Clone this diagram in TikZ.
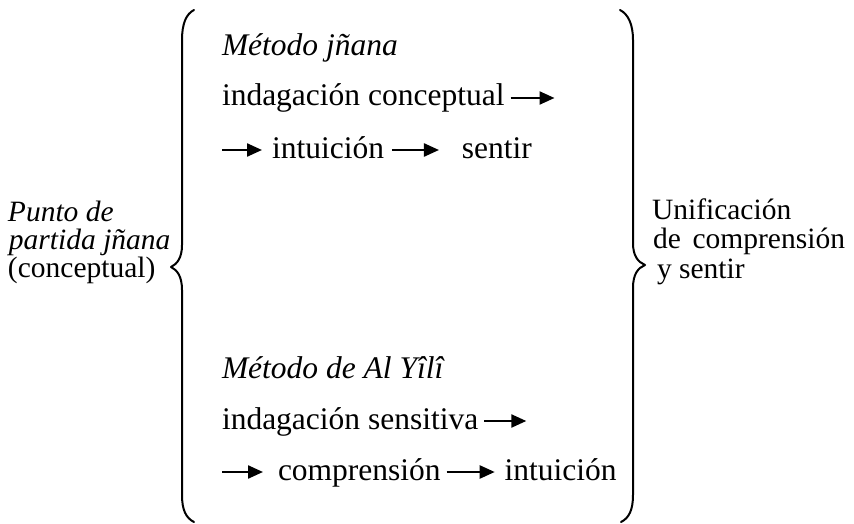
\documentclass[tikz,border=0pt]{standalone}
\usepackage{fontspec}
\setmainfont{Liberation Serif}
\usetikzlibrary{arrows.meta,positioning}
\begin{document}
\begin{tikzpicture}[x=1pt,y=-1pt,
  txt/.style={inner sep=0pt, outer sep=0pt, text height=16pt, text depth=0pt, anchor=west, font=\fontsize{31.5}{38}\selectfont},
  ittxt/.style={txt, font=\fontsize{31.5}{38}\selectfont\itshape},
  sidetxt/.style={inner sep=0pt, outer sep=0pt, text height=13pt, text depth=0pt, anchor=west, font=\fontsize{29.5}{34}\selectfont},
  sideit/.style={sidetxt, font=\fontsize{29.5}{34}\selectfont\itshape},
  arr/.style={line width=2.3pt, -{Triangle[length=15pt,width=13pt]}},
  bracepath/.style={line width=2pt, line cap=round, line join=round}]
\useasboundingbox (0,0) rectangle (854,524);

% braces
\draw[bracepath] (194,10) .. controls (186,14) and (182,24) .. (182,40) -- (182,245)
  .. controls (182,258) and (177,264) .. (171,267)
  .. controls (177,270) and (182,276) .. (182,290) -- (182,495)
  .. controls (182,510) and (186,518) .. (194,522);
\draw[bracepath] (620,10) .. controls (628,14) and (633,24) .. (633,40) -- (633,243)
  .. controls (633,256) and (638,262) .. (645,265)
  .. controls (638,268) and (633,274) .. (633,288) -- (633,495)
  .. controls (633,510) and (629,518) .. (621,522);

% left
\node[sideit] (p1) at (8,215) {Punto de};
\node[sideit] (p2) at (9,243) {partida jñana};
\node[sidetxt] (p3) at (8,271) {(conceptual)};

% right
\node[sidetxt] (u1) at (652,213) {Unificación};
\node[sidetxt] (u2) at (653,242) {de\hspace{0.4em}comprensión};
\node[sidetxt] (u3) at (657,272) {y sentir};

% upper method
\node[ittxt] (m1) at (222,48) {Método jñana};
\node[txt] (ic) at (222,98) {indagación conceptual};
\coordinate[right=50pt of ic] (ice);
\draw[arr, shorten <=6pt] (ic.east) -- (ice);
\coordinate (s1) at (222,150);
\node[txt, right=50pt of s1] (in1) {intuición};
\draw[arr, shorten >=10pt] (s1) -- (in1.west);
\node[txt, right=78pt of in1] (se1) {sentir};
\draw[arr, shorten <=8pt, shorten >=23pt] (in1.east) -- (se1.west);

% lower method
\node[ittxt] (m2) at (222,370) {Método de Al Yîlî};
\node[txt] (is) at (222,421) {indagación sensitiva};
\coordinate[right=48pt of is] (ise);
\draw[arr, shorten <=6pt] (is.east) -- (ise);
\coordinate (s2) at (222,472);
\node[txt, right=56pt of s2] (co) {comprensión};
\draw[arr, shorten >=15pt] (s2) -- (co.west);
\node[txt, right=64pt of co] (in2) {intuición};
\draw[arr, shorten <=6pt, shorten >=10pt] (co.east) -- (in2.west);
\end{tikzpicture}
\end{document}
